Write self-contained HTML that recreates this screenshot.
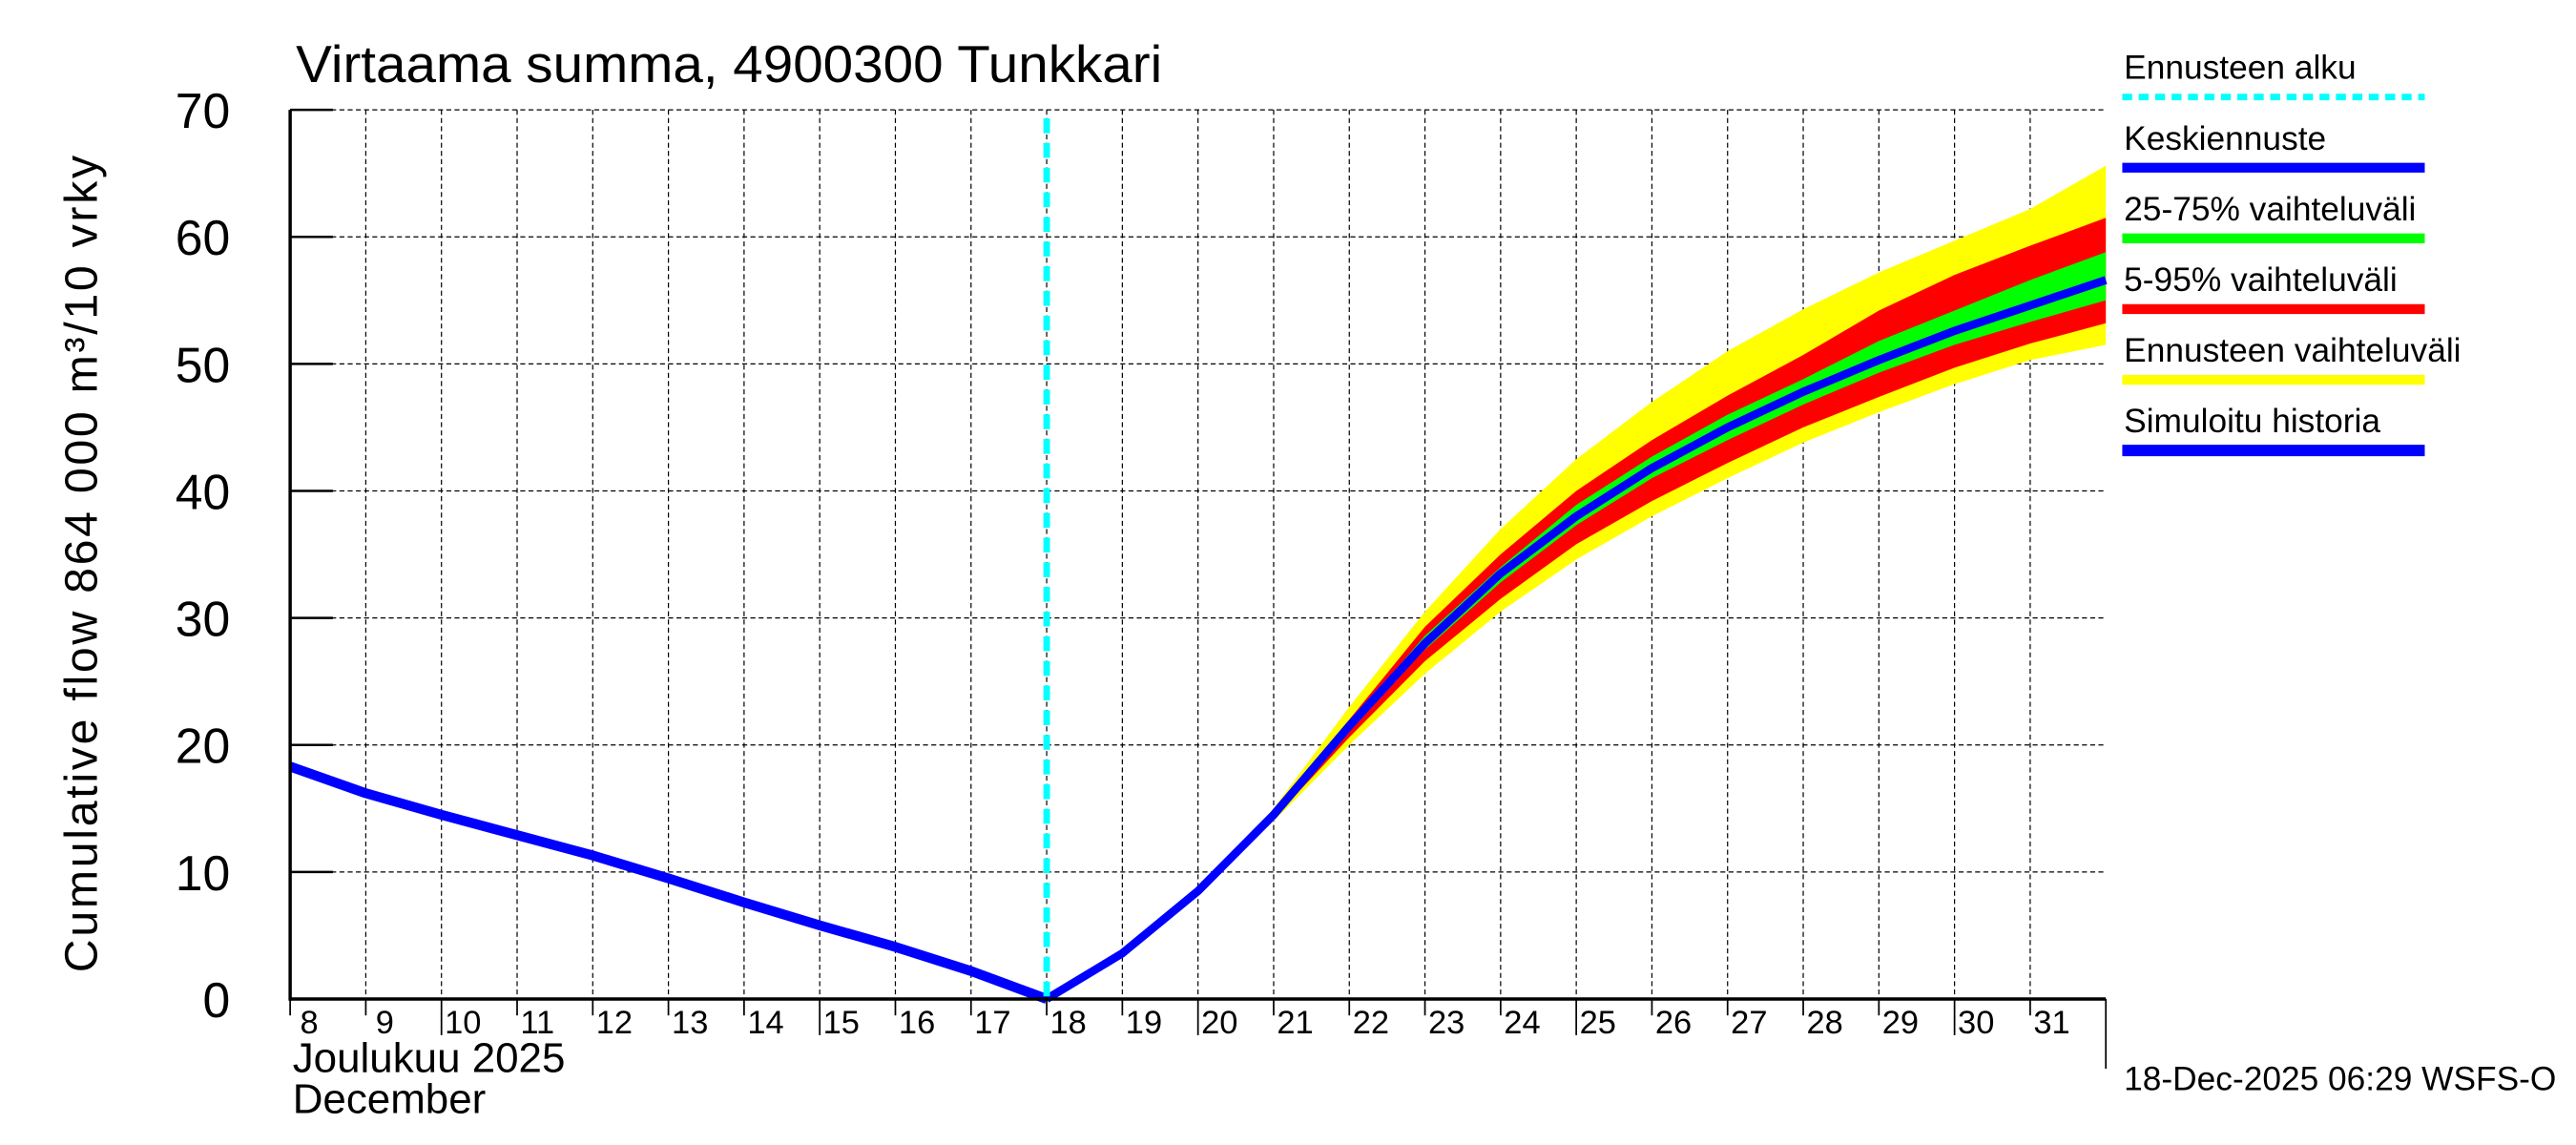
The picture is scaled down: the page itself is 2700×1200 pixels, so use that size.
<!DOCTYPE html>
<html><head><meta charset="utf-8">
<style>html,body{margin:0;padding:0;background:#fff;}svg{display:block;}
text{font-family:"Liberation Sans",sans-serif;fill:#000;}</style></head>
<body>
<svg id="chart" width="2700" height="1200" viewBox="0 0 1567 696.4" preserveAspectRatio="none" xmlns="http://www.w3.org/2000/svg">
<g id="grid"></g>
<g id="bands"></g>
<g id="lines"></g>
<g id="axes"></g>
<text x="180" y="50" font-size="32" textLength="527" lengthAdjust="spacingAndGlyphs">Virtaama summa, 4900300 Tunkkari</text>
<text transform="translate(59,343) rotate(-90)" text-anchor="middle" font-size="28" textLength="497" lengthAdjust="spacing">Cumulative flow    864 000 m³/10 vrky</text>
<text x="178" y="652" font-size="25.5">Joulukuu  2025</text>
<text x="178" y="677" font-size="25.5">December</text>
<text x="1292" y="663" font-size="20.5" textLength="263" lengthAdjust="spacingAndGlyphs">18-Dec-2025 06:29 WSFS-O</text>
<g id="legend"></g>
</svg>
<script>
const days = [8,9,10,11,12,13,14,15,16,17,18,19,20,21,22,23,24,25,26,27,28,29,30,31,32];
const yTicks = [0,10,20,30,40,50,60,70];
const histDays = [8,9,10,11,12,13,14,15,16,17,18];
const histVals = [18.3,16.2,14.5,12.9,11.3,9.5,7.6,5.8,4.1,2.2,0];
const fcDays = [18,19,20,21,22,23,24,25,26,27,28,29,30,31,32];
const median = [0,3.6,8.5,14.5,21.5,28,33.5,38,41.8,45,47.8,50.3,52.6,54.6,56.6];
const bandDays = [20,21,22,23,24,25,26,27,28,29,30,31,32];
const yelHi = [8.5,15,23,30.5,37,42.5,47,51,54.3,57.2,59.7,62.2,65.6];
const redHi = [8.5,14.8,22,29.3,35,40,44,47.5,50.7,54.2,57,59.3,61.5];
const grnHi = [8.5,14.6,21.7,28.6,34,38.9,42.7,46,48.8,51.8,54.2,56.6,58.8];
const grnLo = [8.5,14.4,21.3,27.5,32.8,37.3,41,44,46.8,49.3,51.5,53.3,55];
const redLo = [8.5,14.2,20.6,26.6,31.5,35.8,39.2,42.2,45,47.4,49.7,51.6,53.2];
const yelLo = [8.5,14,20,25.6,30.5,34.6,38,41,43.8,46.2,48.4,50.3,51.5];
const forecastStart = 18;
const legendItems = ["Ennusteen alku","Keskiennuste","25-75% vaihteluväli","5-95% vaihteluväli","Ennusteen vaihteluväli","Simuloitu historia"];
const legendColors = ["#00ffff","#0000ff","#00ff00","#ff0000","#ffff00","#0000ff"];

const NS="http://www.w3.org/2000/svg";
const X0=176.5,X1=1281,Y0=607.6,Y1=66.8;
const xs=d=>X0+(d-8)*(X1-X0)/24;
const ys=v=>Y0-v*(Y0-Y1)/70;
function mk(tag,attrs,parent){const e=document.createElementNS(NS,tag);for(const k in attrs)e.setAttribute(k,attrs[k]);parent.appendChild(e);return e;}
const grid=document.getElementById('grid'),bands=document.getElementById('bands'),lines=document.getElementById('lines'),axes=document.getElementById('axes'),legend=document.getElementById('legend');
days.slice(1,-1).forEach(d=>{const l=mk('line',{x1:xs(d),x2:xs(d),y1:Y1,y2:Y0,stroke:'#000','stroke-width':0.7,'stroke-dasharray':'3,2'},grid);

});
yTicks.slice(1).forEach(v=>{const l=mk('line',{x1:X0,x2:X1,y1:ys(v),y2:ys(v),stroke:'#000','stroke-width':0.7,'stroke-dasharray':'3,2'},grid);

});
function band(hi,lo,color,name){let p=bandDays.map((d,i)=>xs(d)+','+ys(hi[i])).join(' ')+' '+bandDays.map((d,i)=>xs(d)+','+ys(lo[i])).reverse().join(' ');
const e=mk('polygon',{points:p,fill:color},bands);

}
band(yelHi,yelLo,'#ffff00','band-forecast-range');
band(redHi,redLo,'#ff0000','band-5-95');
band(grnHi,grnLo,'#00ff00','band-25-75');
const h=mk('polyline',{points:histDays.map((d,i)=>xs(d)+','+ys(histVals[i])).join(' '),fill:'none',stroke:'#0000ff','stroke-width':6,'stroke-linejoin':'round'},lines);


const m=mk('polyline',{points:fcDays.map((d,i)=>xs(d)+','+ys(median[i])).join(' '),fill:'none',stroke:'#0000ff','stroke-width':5,'stroke-linejoin':'round'},lines);


const c=mk('line',{x1:xs(forecastStart),x2:xs(forecastStart),y1:72,y2:Y0,stroke:'#00ffff','stroke-width':4,'stroke-dasharray':'9,6'},lines);


mk('line',{x1:X0,x2:X0,y1:Y1,y2:Y0+1,stroke:'#000','stroke-width':2},axes);
mk('line',{x1:X0,x2:X1,y1:Y0,y2:Y0,stroke:'#000','stroke-width':2},axes);
mk('line',{x1:X1,x2:X1,y1:Y0,y2:650,stroke:'#000','stroke-width':1},axes);
yTicks.forEach(v=>{mk('line',{x1:X0,x2:X0+26,y1:ys(v),y2:ys(v),stroke:'#000','stroke-width':1.5},axes);
const t=mk('text',{x:140,y:ys(v)+11,'text-anchor':'end','font-size':30},axes);t.textContent=v;

});
days.slice(0,-1).forEach(d=>{mk('line',{x1:xs(d),x2:xs(d),y1:Y0,y2:Y0+(d%5===0?22:10),stroke:'#000','stroke-width':1},axes);
const t=mk('text',{x:xs(d)+(d<10?6:2),y:Y0+21,'font-size':20},axes);t.textContent=d;

});
legendItems.forEach((s,i)=>{const y=i*43;
const t=mk('text',{x:1292,y:48+y,'font-size':20.5},legend);t.textContent=s;


const l=mk('line',{x1:1291,x2:1475,y1:59+y,y2:59+y,stroke:legendColors[i],'stroke-width':i===0?4:(i===5?7:6),'stroke-dasharray':i===0?'6,4':'none'},legend);

});
</script>
</body></html>
